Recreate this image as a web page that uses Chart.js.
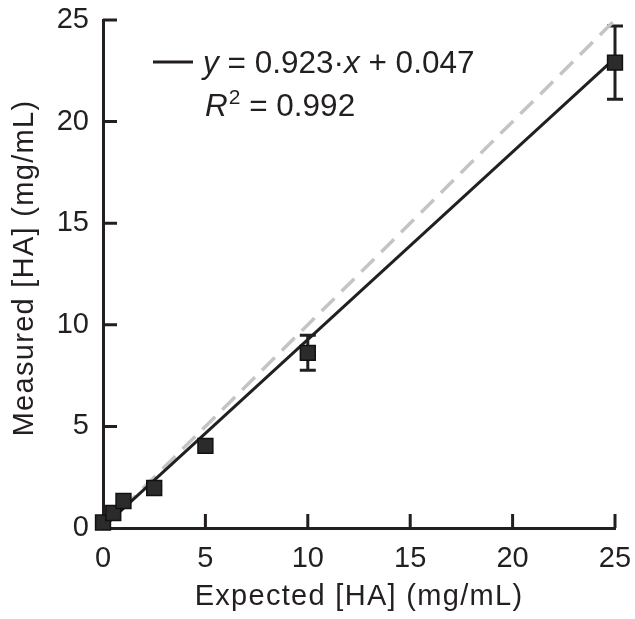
<!DOCTYPE html>
<html>
<head>
<meta charset="utf-8">
<script src="https://cdn.jsdelivr.net/npm/chart.js@4.4.1/dist/chart.umd.min.js"></script>
<style>
html,body{margin:0;padding:0;background:#fff;}
#wrap{width:635px;height:619px;}
</style>
</head>
<body>
<div id="wrap"><canvas id="c" width="635" height="619"></canvas></div>
<script>
// ---- data ----
const expected = [0, 0.5, 1, 2.5, 5, 10, 25];
const measured = [0.27, 0.74, 1.33, 1.97, 4.04, 8.62, 22.9];
const measuredErr = [0, 0, 0, 0, 0, 0.86, 1.8];
const identityX = [0, 25];
const identityY = [0, 25];
const fitX = [0, 25];
const fitY = [0.047, 23.12];
const tickValues = [0, 5, 10, 15, 20, 25];
const xTitle = 'Expected [HA] (mg/mL)';
const yTitle = 'Measured [HA] (mg/mL)';
const fitLabel = ['y', ' = 0.923\u00B7', 'x', ' + 0.047'];
const r2Label = ['R', '2', ' = 0.992'];

const INK = '#231f20';
const FONT = '"Liberation Sans", Arial, sans-serif';

const pts = expected.map((x, i) => ({x: x, y: measured[i]}));
const idPts = identityX.map((x, i) => ({x: x, y: identityY[i]}));
const fitPts = fitX.map((x, i) => ({x: x, y: fitY[i]}));

const errorBars = {
  id: 'errorBars',
  beforeDatasetsDraw(chart) {
    const {ctx, scales: {x, y}} = chart;
    ctx.save();
    ctx.strokeStyle = INK;
    ctx.lineWidth = 3;
    expected.forEach((v, i) => {
      const e = measuredErr[i];
      if (!e) return;
      const px = x.getPixelForValue(v);
      const top = y.getPixelForValue(measured[i] + e);
      const bot = y.getPixelForValue(measured[i] - e);
      ctx.beginPath();
      ctx.moveTo(px, top); ctx.lineTo(px, bot);
      ctx.moveTo(px - 8, top); ctx.lineTo(px + 8, top);
      ctx.moveTo(px - 8, bot); ctx.lineTo(px + 8, bot);
      ctx.stroke();
    });
    // inward tick marks
    const ca = chart.chartArea;
    ctx.lineWidth = 3;
    ctx.beginPath();
    tickValues.forEach(v => {
      if (v === 0) return;
      const px = x.getPixelForValue(v);
      ctx.moveTo(px, ca.bottom); ctx.lineTo(px, ca.bottom - 14);
      const py = y.getPixelForValue(v);
      ctx.moveTo(ca.left, py); ctx.lineTo(ca.left + 14, py);
    });
    ctx.stroke();
    ctx.restore();
  }
};

const textLayer = {
  id: 'textLayer',
  afterDraw(chart) {
    const ctx = chart.ctx;
    const ca = chart.chartArea;
    ctx.save();
    // axis titles
    ctx.fillStyle = INK;
    ctx.font = '29px ' + FONT;
    try { ctx.letterSpacing = '1.3px'; } catch (e) {}
    ctx.textAlign = 'center';
    ctx.textBaseline = 'alphabetic';
    ctx.fillText(xTitle, (ca.left + ca.right) / 2, 605);
    ctx.save();
    ctx.translate(33, 268);
    ctx.rotate(-Math.PI / 2);
    ctx.fillText(yTitle, 0, 0);
    ctx.restore();
    try { ctx.letterSpacing = '0px'; } catch (e) {}

    // fit legend
    ctx.strokeStyle = INK;
    ctx.lineWidth = 3;
    ctx.beginPath();
    ctx.moveTo(153, 62); ctx.lineTo(193, 62);
    ctx.stroke();
    ctx.textAlign = 'left';
    const size = 31.5;
    const reg = size + 'px ' + FONT;
    const ital = 'italic ' + size + 'px ' + FONT;
    let cx = 203;
    const y1 = 73;
    fitLabel.forEach((s, i) => {
      ctx.font = (i % 2 === 0) ? ital : reg;
      ctx.fillText(s, cx, y1);
      cx += ctx.measureText(s).width;
    });
    cx = 205;
    const y2 = 116;
    ctx.font = ital;
    ctx.fillText(r2Label[0], cx, y2);
    cx += ctx.measureText(r2Label[0]).width + 1;
    ctx.font = '21px ' + FONT;
    ctx.fillText(r2Label[1], cx, y2 - 12);
    cx += ctx.measureText(r2Label[1]).width;
    ctx.font = reg;
    ctx.fillText(r2Label[2], cx, y2);
    ctx.restore();
  }
};

new Chart(document.getElementById('c'), {
  type: 'scatter',
  data: {
    datasets: [
      {
        data: pts,
        pointStyle: 'rect',
        pointRadius: 10.5,
        pointHoverRadius: 10.5,
        backgroundColor: '#2b2b2b',
        borderColor: '#111',
        borderWidth: 1.5,
        showLine: false,
        clip: false,
        order: 0
      },
      {
        data: fitPts,
        showLine: true,
        borderColor: INK,
        borderWidth: 3,
        pointRadius: 0,
        clip: false,
        order: 1
      },
      {
        data: idPts,
        showLine: true,
        borderColor: '#c4c4c4',
        borderWidth: 3.5,
        borderDash: [18, 10],
        pointRadius: 0,
        clip: false,
        order: 2
      }
    ]
  },
  options: {
    responsive: false,
    animation: false,
    devicePixelRatio: 1,
    layout: {padding: {top: 20, right: 20, left: 0, bottom: 0}},
    plugins: {legend: {display: false}, tooltip: {enabled: false}},
    scales: {
      x: {
        type: 'linear', min: 0, max: 25,
        afterBuildTicks(s) { s.ticks = tickValues.map(v => ({value: v})); },
        afterFit(s) { s.height = 91; s.paddingLeft = 0; s.paddingRight = 0; },
        grid: {display: false, drawTicks: false},
        border: {display: true, color: INK, width: 3},
        ticks: {color: INK, font: {family: FONT, size: 29}, padding: 14, maxRotation: 0},
        title: {display: false}
      },
      y: {
        type: 'linear', min: 0, max: 25,
        afterBuildTicks(s) { s.ticks = tickValues.map(v => ({value: v})); },
        afterFit(s) { s.width = 103; s.paddingTop = 0; s.paddingBottom = 0; },
        grid: {display: false, drawTicks: false},
        border: {display: true, color: INK, width: 3},
        ticks: {color: INK, font: {family: FONT, size: 29}, padding: 14},
        title: {display: false}
      }
    }
  },
  plugins: [errorBars, textLayer]
});
</script>
</body>
</html>
